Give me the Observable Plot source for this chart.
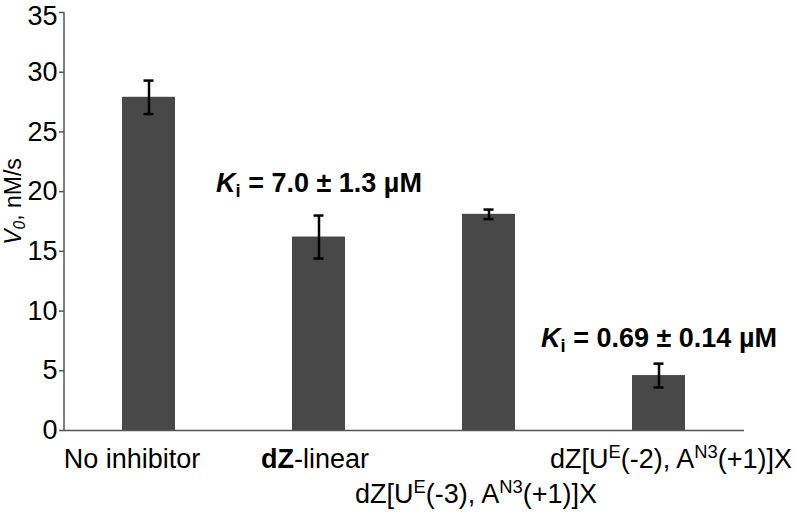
<!DOCTYPE html>
<html><head><meta charset="utf-8">
<script src="https://cdn.jsdelivr.net/npm/d3@7"></script>
<script src="https://cdn.jsdelivr.net/npm/@observablehq/plot@0.6"></script>
<style>body{margin:0;background:#fff}</style>
</head><body><div id="chart"></div>
<script>
// ---- data ----
const categories = [
  "No inhibitor",
  "<b>dZ</b>-linear",
  "dZ[U<sup>E</sup>(-3), A<sup>N3</sup>(+1)]X",
  "dZ[U<sup>E</sup>(-2), A<sup>N3</sup>(+1)]X"
];
const rates = [27.9, 16.2, 18.1, 4.6];
const errors = [1.4, 1.8, 0.4, 1.0];
const labelRows = [1, 1, 2, 1];
const yTicks = [0, 5, 10, 15, 20, 25, 30, 35];
const yLabel = "<i>V</i><sub><i>0</i></sub>, nM/s";
const kiTexts = ["<i>K</i><sub>i</sub> = 7.0 ± 1.3 µM", "<i>K</i><sub>i</sub> = 0.69 ± 0.14 µM"];
const kiCategories = [categories[1], categories[3]];
const kiY = [20, 7.0];

// ---- tables ----
const data = categories.map((c, i) => ({c, v: rates[i], e: errors[i], row: labelRows[i]}));
const kiData = kiTexts.map((t, i) => ({t, c: kiCategories[i], y: kiY[i]}));
const yMax = yTicks[yTicks.length - 1];

// layout offsets of category labels (pixels)
const labelDx = [-17, -4, -13, 12];
const rowDy = {1: 37, 2: 72};

const FONT = "'Liberation Sans', Arial, Helvetica, sans-serif";
const fs = 27;
const axisColor = "#555";

const chart = Plot.plot({
  width: 796, height: 517,
  marginLeft: 64, marginRight: 52, marginTop: 12, marginBottom: 87,
  style: {fontFamily: FONT, fontSize: fs + "px", background: "#fff", color: "#000", overflow: "visible"},
  x: {domain: categories, paddingInner: 0.688, paddingOuter: 0.344, axis: null},
  y: {domain: [0, yMax], axis: null},
  marks: [
    Plot.barY(data, {x: "c", y: "v", fill: "#484848"}),
    Plot.ruleX(data, {x: "c", y1: d => d.v - d.e, y2: d => d.v + d.e, stroke: "#000", strokeWidth: 2.5}),
    Plot.tickY(data, {x: "c", y: d => d.v + d.e, insetLeft: 21.5, insetRight: 21.5, stroke: "#000", strokeWidth: 2.5}),
    Plot.tickY(data, {x: "c", y: d => d.v - d.e, insetLeft: 21.5, insetRight: 21.5, stroke: "#000", strokeWidth: 2.5}),
    Plot.ruleY([0], {stroke: axisColor, strokeWidth: 1.5}),
    // vertical axis line at the left edge of the frame
    Plot.ruleX([categories[0]], {x: d => d, y1: 0, y2: yMax, dx: -85, stroke: axisColor, strokeWidth: 1.5}),
    Plot.axisY({ticks: yTicks, tickSize: 5, tickPadding: 2, fontSize: fs, label: null, stroke: axisColor, strokeWidth: 1.5,
      tickFormat: d => d === yMax ? "" : String(d)}),
    // top tick label nudged down so it stays inside the picture
    Plot.axisY({ticks: [yMax], tickSize: 0, tickPadding: 7, dy: 4, fontSize: fs, label: null, tickFormat: d => String(d)}),
    ...data.map((d, i) => Plot.text([d], {x: "c", y: 0, text: "c", dx: labelDx[i], dy: rowDy[d.row], lineAnchor: "bottom", textAnchor: "middle", fontSize: fs, fill: "#000"})),
    Plot.text(kiData, {x: "c", y: "y", text: "t", fontWeight: "bold", fontSize: fs, lineAnchor: "bottom", textAnchor: "middle", fill: "#000"}),
    Plot.text([yLabel], {frameAnchor: "left", text: d => d, rotate: -90, dx: -51, dy: -20, fontSize: 23, textAnchor: "middle", lineAnchor: "middle", fill: "#000"})
  ]
});
document.getElementById("chart").appendChild(chart);

// rich text: bold / italic / superscript / subscript
function rich(el, markup) {
  const size = parseFloat(getComputedStyle(el).fontSize) || fs;
  el.textContent = "";
  const parts = markup.split(/(<\/?(?:b|i|sup|sub)>)/).filter(s => s);
  let b = 0, it = 0, shift = 0, cur = 0;
  for (const p of parts) {
    const m = p.match(/^<(\/?)(b|i|sup|sub)>$/);
    if (m) {
      const on = m[1] ? -1 : 1;
      if (m[2] === "b") b += on; else if (m[2] === "i") it += on;
      else if (m[2] === "sup") shift += on; else shift -= on;
      continue;
    }
    const ts = d3.select(el).append("tspan").text(p);
    if (b) ts.attr("font-weight", "bold");
    if (it) ts.attr("font-style", "italic");
    if (shift) ts.attr("font-size", (0.68 * size) + "px");
    const target = shift > 0 ? -0.36 * size : shift < 0 ? 0.2 * size : 0;
    if (target !== cur) { ts.attr("dy", target - cur); cur = target; }
  }
}
d3.select(chart).selectAll("text").each(function() {
  const t = this.textContent;
  if (/<\/?(b|i|sup|sub)>/.test(t)) rich(this, t);
});
</script>
</body></html>
